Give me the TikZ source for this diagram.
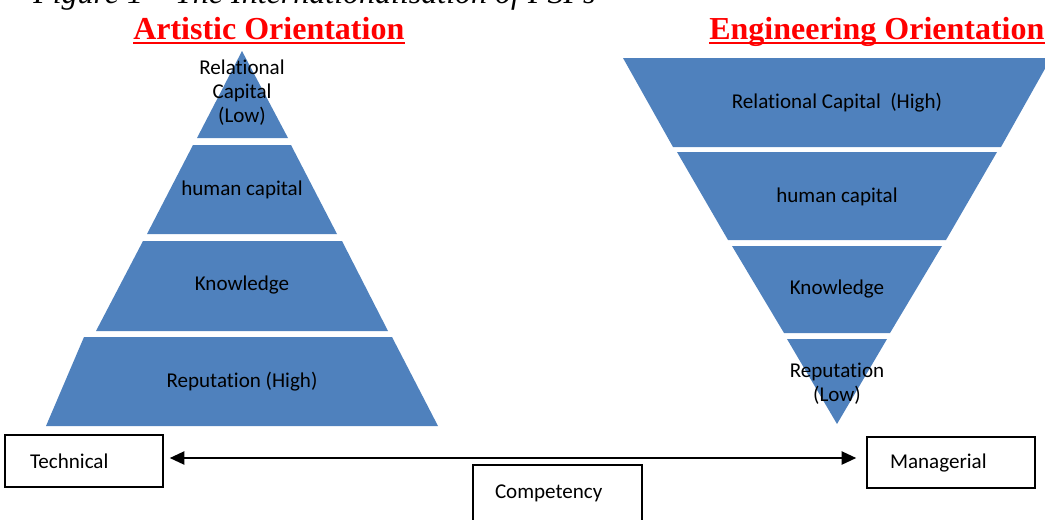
\documentclass[tikz,border=0pt]{standalone}
\usepackage{fontspec}
\setmainfont{Liberation Serif}
\newfontfamily\bodyfont{Carlito}[Ligatures=NoCommon]
\usetikzlibrary{arrows.meta,calc}
\definecolor{layerblue}{RGB}{79,129,189}
\begin{document}
\begin{tikzpicture}[x=0.75pt,y=-0.75pt,
  layer/.style={fill=layerblue, draw=none},
  lbl/.style={font=\bodyfont\fontsize{15.8}{18}\selectfont, text=black, align=center, inner sep=0pt},
  heading/.style={font=\fontsize{24}{28}\selectfont\bfseries, text=red, inner sep=0pt},
  tag/.style={draw=black, line width=1.2pt, font=\bodyfont\fontsize{15.8}{18}\selectfont, align=left},
  link/.style={line width=1.2pt, {Triangle[length=11pt,width=10pt]}-{Triangle[length=11pt,width=10pt]}}]
\clip (0,0) rectangle (1045,519);

% caption line
\node[anchor=base west, inner sep=0pt, font=\fontsize{24}{28}\selectfont\itshape] (caption) at (33,3) {Figure 1 – The Internationalisation of PSFs};

% headings
\node[heading, anchor=base west] (art) at (133,39) {Artistic Orientation};
\draw[red, line width=2.2pt] ($(art.base west)+(0,4)$) -- ($(art.base east)+(0,4)$);
\node[heading, anchor=base west] (eng) at (709,39) {Engineering Orientation};
\draw[red, line width=2.2pt] ($(eng.base west)+(0,4)$) -- ($(eng.base east)+(0,4)$);

% upright pyramid
\fill[layer] (242,51) -- (288,138) -- (197,138) -- cycle;
\fill[layer] (193,145) -- (291,145) -- (337,234) -- (147,234) -- cycle;
\fill[layer] (143,241) -- (342,241) -- (388,331) -- (96,331) -- cycle;
\fill[layer] (84,337) -- (392,337) -- (438,426) -- (46,426) -- cycle;
\node[lbl] (a1) at (242,93) {Relational\\Capital\\(Low)};
\node[lbl] (a2) at (242,190) {human capital};
\node[lbl] (a3) at (242,285) {Knowledge};
\node[lbl] (a4) at (242,382) {Reputation (High)};

% inverted pyramid
\fill[layer] (623,58) -- (1051,58) -- (1001,147) -- (673,147) -- cycle;
\fill[layer] (677,152) -- (997,152) -- (946,240) -- (728,240) -- cycle;
\fill[layer] (732,246) -- (942,246) -- (890,333) -- (784,333) -- cycle;
\fill[layer] (787,339) -- (887,339) -- (837,424) -- cycle;
\node[lbl] (e1) at (837,103) {Relational Capital\ \ (High)};
\node[lbl] (e2) at (837,197) {human capital};
\node[lbl] (e3) at (837,289) {Knowledge};
\node[lbl] (e4) at (837,384) {Reputation\\(Low)};

% scale boxes
\node[tag, text width=81pt, inner xsep=18.75pt, minimum height=39pt] (tech) at (84,461) {Technical};
\node[tag, text width=91.5pt, inner xsep=17.25pt, minimum height=38.25pt] (mgr) at (951,462.5) {Managerial};
\node[tag, text width=93.75pt, inner xsep=16.5pt, inner ysep=0pt, text height=24.75pt, text depth=30pt, anchor=base] (comp) at (557.5,498) {Competency};

% two-way scale arrow
\draw[link] ($(tech.east)+(6,-3)$) -- ($(tech.east -| mgr.west)+(-10,-3)$);
\end{tikzpicture}
\end{document}
